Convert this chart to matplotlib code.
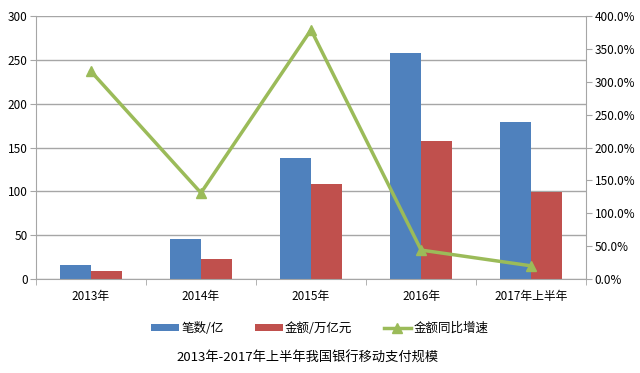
import matplotlib.pyplot as plt
import numpy as np
from matplotlib.ticker import FuncFormatter

plt.rcParams['font.family'] = ['Noto Sans CJK SC', 'DejaVu Sans']

categories = ['2013年', '2014年', '2015年', '2016年', '2017年上半年']
count = [16, 45.6, 138, 257.7, 179]       # 笔数/亿
amount = [9, 23, 108, 157, 99]            # 金额/万亿元
growth = [3.16, 1.31, 3.79, 0.44, 0.20]   # 金额同比增速

blue = '#4F81BD'
red = '#C0504D'
green = '#9BBB59'
grid_c = '#A6A6A6'

fig = plt.figure(figsize=(6.4, 3.73), dpi=100)
ax = fig.add_axes([0.056, 0.252, 0.86, 0.705])
x = np.arange(len(categories))
w = 0.28

ax.bar(x - w / 2, count, w, color=blue, label='笔数/亿', zorder=2)
ax.bar(x + w / 2, amount, w, color=red, label='金额/万亿元', zorder=2)
ax.set_xlim(-0.5, len(categories) - 0.5)
ax.set_ylim(0, 300)
ax.set_yticks(range(0, 301, 50))
ax.yaxis.grid(True, color=grid_c, linewidth=1)
ax.set_axisbelow(True)
ax.set_xticks(x)
ax.set_xticklabels(categories)
ax.set_xticks(np.arange(-0.5, len(categories), 1), minor=True)
ax.tick_params(axis='x', which='major', length=0, pad=8)
ax.tick_params(axis='x', which='minor', length=4, color=grid_c)
ax.tick_params(axis='y', length=4, color=grid_c, pad=2)
ax.tick_params(labelsize=8.5)
for s in ['top', 'right']:
    ax.spines[s].set_visible(False)
for s in ['left', 'bottom']:
    ax.spines[s].set_color(grid_c)

ax2 = ax.twinx()
ax2.plot(x, growth, color=green, linewidth=2.5, marker='^', markersize=7,
         label='金额同比增速', zorder=3)
ax2.set_ylim(0, 4)
ax2.set_yticks(np.arange(0, 4.01, 0.5))
ax2.yaxis.set_major_formatter(FuncFormatter(lambda v, p: f'{v * 100:.1f}%'))
ax2.tick_params(axis='y', length=4, color=grid_c, labelsize=8.5, pad=2)
for s in ['top', 'left', 'bottom']:
    ax2.spines[s].set_visible(False)
ax2.spines['right'].set_color(grid_c)

h1, l1 = ax.get_legend_handles_labels()
h2, l2 = ax2.get_legend_handles_labels()
fig.legend(h1 + h2, l1 + l2, loc='center', bbox_to_anchor=(0.5, 0.12), ncol=3,
           frameon=False, fontsize=9, handlelength=2.2, handleheight=0.5,
           columnspacing=2.5, handletextpad=0.2)

fig.text(0.48, 0.04, '2013年-2017年上半年我国银行移动支付规模', ha='center',
         va='center', fontsize=9.5)

fig.savefig('out.png', dpi=100)
